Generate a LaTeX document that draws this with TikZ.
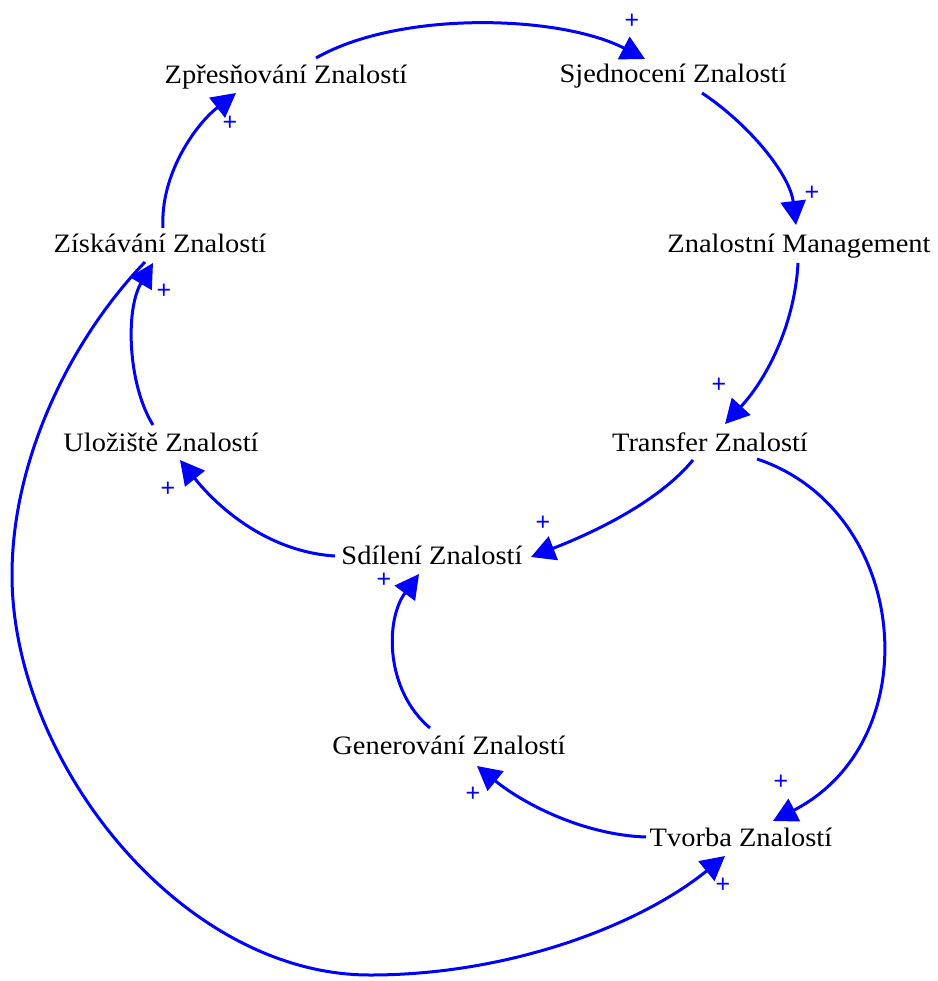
\documentclass[tikz,border=0pt]{standalone}
\usepackage{fontspec}
\setmainfont{Liberation Serif}[FakeStretch=1.07]
\newfontfamily\plusfont{Liberation Sans}
\usetikzlibrary{arrows.meta}
\definecolor{linkblue}{RGB}{0,0,255}
\begin{document}
\begin{tikzpicture}[x=1pt,y=-1pt,
  lbl/.style={anchor=base, inner sep=0pt, font=\fontsize{26.6}{30}\selectfont},
  lnk/.style={draw=linkblue, line width=3pt, -{Triangle[length=24pt,width=25pt]}},
  pl/.style={text=linkblue, font=\plusfont\fontsize{25}{27}\selectfont, inner sep=0pt}]
\path[use as bounding box] (0,0) rectangle (937,981);

% variables
\node[lbl] (zp) at (286,84) {Zpřesňování Znalostí};
\node[lbl] (sj) at (673,83) {Sjednocení Znalostí};
\node[lbl] (zm) at (799,253) {Znalostní Management};
\node[lbl] (zi) at (160,253) {Získávání Znalostí};
\node[lbl] (ul) at (161,451) {Uložiště Znalostí};
\node[lbl] (tr) at (710,451) {Transfer Znalostí};
\node[lbl] (sd) at (432,564) {Sdílení Znalostí};
\node[lbl] (gn) at (449,754) {Generování Znalostí};
\node[lbl] (tv) at (741,846) {Tvorba Znalostí};

% links
\draw[lnk] ([shift={(30,-26)}]zp.base) .. controls (400,10) and (560,15) .. ([shift={(-28,-24)}]sj.base);
\draw[lnk] ([shift={(29,10)}]sj.base) .. controls (750,125) and (790,175) .. ([shift={(-3,-28)}]zm.base);
\draw[lnk] ([shift={(-1,10)}]zm.base) .. controls (795,320) and (770,375) .. ([shift={(15,-27)}]tr.base);
\draw[lnk] ([shift={(-17,9)}]tr.base) .. controls (660,500) and (600,530) .. ([shift={(99,-7)}]sd.base);
\draw[lnk] ([shift={(47,8)}]tr.base) .. controls (910,510) and (930,740) .. ([shift={(32,-25)}]tv.base);
\draw[lnk] ([shift={(-95,-9)}]tv.base) .. controls (585,835) and (525,805) .. ([shift={(28,12)}]gn.base);
\draw[lnk] ([shift={(-19,-26)}]gn.base) .. controls (385,690) and (385,620) .. ([shift={(-13,10)}]sd.base);
\draw[lnk] ([shift={(-97,-8)}]sd.base) .. controls (270,552) and (220,510) .. ([shift={(19,9)}]ul.base);
\draw[lnk] ([shift={(-8,-26)}]ul.base) .. controls (128,385) and (125,310) .. ([shift={(-7,10)}]zi.base);
\draw[lnk] ([shift={(3,-25)}]zi.base) .. controls (160,175) and (195,125) .. ([shift={(-50,9)}]zp.base);
\draw[lnk] ([shift={(-15,9)}]zi.base) .. controls (70,340) and (12,460) .. (12,575)
  .. controls (12,760) and (180,975) .. (370,975)
  .. controls (510,975) and (640,925) .. ([shift={(-16,10)}]tv.base);

% polarities
\node[pl] (p1) at (632,21) {+};
\node[pl] (p2) at (812,193) {+};
\node[pl] (p3) at (719,385) {+};
\node[pl] (p4) at (543,523) {+};
\node[pl] (p5) at (781,782) {+};
\node[pl] (p6) at (473,794) {+};
\node[pl] (p7) at (384,580) {+};
\node[pl] (p8) at (168,489) {+};
\node[pl] (p9) at (164,291) {+};
\node[pl] (p10) at (230,123) {+};
\node[pl] (p11) at (723,885) {+};
\end{tikzpicture}
\end{document}
